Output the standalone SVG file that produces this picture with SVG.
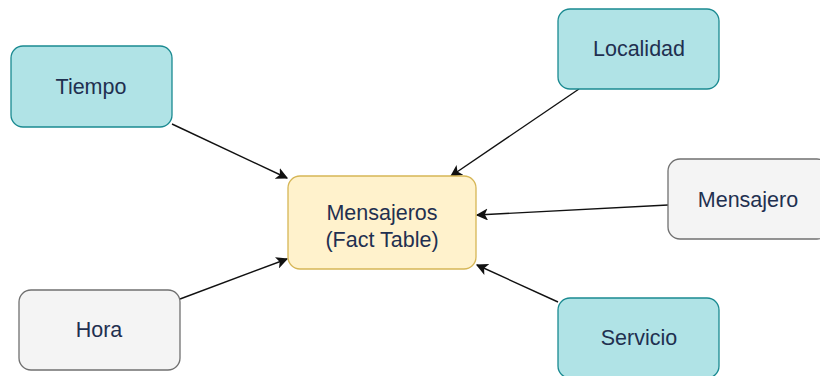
<svg xmlns="http://www.w3.org/2000/svg" width="820" height="376" viewBox="0 0 820 376">
<style>
  .teal { fill: #b0e3e6; stroke: #1a8a91; stroke-width: 1.3; }
  .gray { fill: #f4f4f4; stroke: #707070; stroke-width: 1.3; }
  .yellow { fill: #fff2cc; stroke: #d6b656; stroke-width: 1.3; }
  text { font-family: "Liberation Sans", Arial, sans-serif; font-size: 21.5px; fill: #1f3050; text-anchor: middle; dominant-baseline: central; }
  .edge { stroke: #111111; stroke-width: 1.4; fill: none; marker-end: url(#arrow); }
</style>
<defs>
  <marker id="arrow" viewBox="0 0 10 10" refX="9" refY="5" markerWidth="12" markerHeight="12" markerUnits="userSpaceOnUse" orient="auto">
    <path d="M0,0 L10,5 L0,10 L2.5,5 Z" fill="#111111"/>
  </marker>
</defs>
<rect width="820" height="376" fill="#ffffff"/>
<g id="connectors">
  <line class="edge" x1="172" y1="124" x2="287" y2="178"/>
  <line class="edge" x1="579" y1="89" x2="451" y2="176"/>
  <line class="edge" x1="668" y1="205" x2="477" y2="215"/>
  <line class="edge" x1="558" y1="302" x2="477" y2="265"/>
  <line class="edge" x1="180" y1="299" x2="287" y2="259"/>
</g>
<g id="fact">
  <rect class="yellow" x="288" y="176" width="188" height="93" rx="12"/>
  <text x="382" y="213">Mensajeros</text>
  <text x="382" y="240">(Fact Table)</text>
</g>
<g id="tiempo">
  <rect class="teal" x="11" y="46" width="161" height="81" rx="12"/>
  <text x="91" y="87">Tiempo</text>
</g>
<g id="localidad">
  <rect class="teal" x="558" y="9" width="161" height="80" rx="12"/>
  <text x="639" y="49">Localidad</text>
</g>
<g id="mensajero">
  <rect class="gray" x="668" y="159" width="161" height="80" rx="12"/>
  <text x="748" y="200">Mensajero</text>
</g>
<g id="servicio">
  <rect class="teal" x="558" y="298" width="161" height="80" rx="12"/>
  <text x="639" y="338">Servicio</text>
</g>
<g id="hora">
  <rect class="gray" x="19" y="290" width="161" height="80" rx="12"/>
  <text x="99" y="330">Hora</text>
</g>
</svg>
